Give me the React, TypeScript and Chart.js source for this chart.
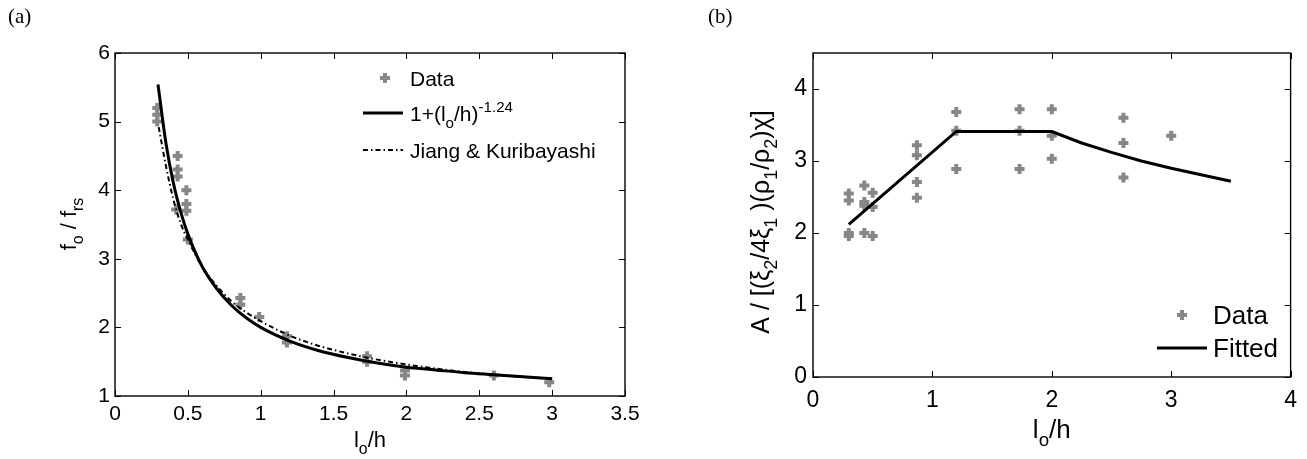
import React, { useEffect, useRef } from 'react';
import { Chart, registerables } from 'chart.js';
Chart.register(...registerables);

const SANS = '"Liberation Sans", Arial, sans-serif';
const SERIF = '"Liberation Serif", "Times New Roman", serif';
const GREY = '#878787';

// ---------- Panel (a) ----------
const aDataX = [0.29, 0.29, 0.29, 0.43, 0.43, 0.43, 0.42, 0.49, 0.49, 0.49, 0.5, 0.86, 0.86, 0.99, 1.18, 1.18, 1.73, 1.73, 1.99, 1.99, 2.6, 2.98];
const aDataY = [5.2, 5.1, 5.0, 4.5, 4.3, 4.2, 3.72, 4.0, 3.8, 3.7, 3.28, 2.43, 2.33, 2.15, 1.87, 1.78, 1.58, 1.5, 1.37, 1.3, 1.3, 1.2];
const aFitX = [0.295, 0.35, 0.4, 0.45, 0.5, 0.6, 0.7, 0.8, 0.9, 1.0, 1.2, 1.4, 1.6, 1.8, 2.0, 2.2, 2.4, 2.6, 2.8, 3.0];
const aFitY = [5.54, 4.68, 4.11, 3.69, 3.36, 2.88, 2.56, 2.32, 2.14, 2.0, 1.8, 1.66, 1.56, 1.48, 1.42, 1.38, 1.34, 1.31, 1.28, 1.25];
const aJKX = [0.3, 0.35, 0.4, 0.45, 0.5, 0.6, 0.7, 0.8, 0.9, 1.0, 1.2, 1.4, 1.6, 1.8, 2.0, 2.2, 2.4, 2.6, 2.8, 3.0];
const aJKY = [4.92, 4.35, 3.87, 3.52, 3.28, 2.88, 2.6, 2.38, 2.22, 2.09, 1.88, 1.73, 1.62, 1.53, 1.46, 1.4, 1.35, 1.31, 1.28, 1.25];
const aXTicks = [0, 0.5, 1, 1.5, 2, 2.5, 3, 3.5];
const aYTicks = [1, 2, 3, 4, 5, 6];

// ---------- Panel (b) ----------
const bDataX = [0.3, 0.3, 0.3, 0.3, 0.43, 0.43, 0.43, 0.43, 0.5, 0.5, 0.5, 0.87, 0.87, 0.87, 0.87, 1.2, 1.2, 1.2, 1.73, 1.73, 1.73, 2.0, 2.0, 2.0, 2.6, 2.6, 2.6, 3.0];
const bDataY = [2.55, 2.45, 2.0, 1.96, 2.66, 2.43, 2.38, 2.0, 2.56, 2.36, 1.96, 3.22, 3.08, 2.71, 2.49, 3.68, 3.42, 2.89, 3.72, 3.42, 2.89, 3.72, 3.35, 3.03, 3.6, 3.25, 2.77, 3.35];
const bFitX = [0.3, 1.2, 2.0, 2.25, 2.5, 2.75, 3.0, 3.25, 3.5];
const bFitY = [2.12, 3.41, 3.41, 3.25, 3.12, 3.0, 2.9, 2.81, 2.72];
const bXTicks = [0, 1, 2, 3, 4];
const bYTicks = [0, 1, 2, 3, 4];

type Seg = { t: string; k?: 'sub' | 'sup' };

function richWidth(ctx: CanvasRenderingContext2D, segs: Seg[], size: number) {
  let w = 0;
  for (const s of segs) {
    ctx.font = `${s.k ? size * 0.72 : size}px ${SANS}`;
    w += ctx.measureText(s.t).width;
  }
  return w;
}

function drawRich(ctx: CanvasRenderingContext2D, segs: Seg[], x: number, y: number, size: number, align: 'left' | 'center') {
  const w = richWidth(ctx, segs, size);
  let cx = align === 'center' ? x - w / 2 : x;
  ctx.textAlign = 'left';
  ctx.textBaseline = 'alphabetic';
  ctx.fillStyle = '#000';
  for (const s of segs) {
    const fs = s.k ? size * 0.72 : size;
    ctx.font = `${fs}px ${SANS}`;
    const dy = s.k === 'sub' ? size * 0.32 : s.k === 'sup' ? -size * 0.45 : 0;
    ctx.fillText(s.t, cx, y + dy);
    cx += ctx.measureText(s.t).width;
  }
}

function drawPlus(ctx: CanvasRenderingContext2D, x: number, y: number) {
  ctx.save();
  ctx.strokeStyle = GREY;
  ctx.lineWidth = 4;
  ctx.beginPath();
  ctx.moveTo(x - 5, y); ctx.lineTo(x + 5, y);
  ctx.moveTo(x, y - 5); ctx.lineTo(x, y + 5);
  ctx.stroke();
  ctx.restore();
}

type LegendItem = { kind: 'marker' | 'solid' | 'dashdot'; segs: Seg[]; y: number; baseline: number };

type PanelCfg = {
  left: number; width: number;
  area: { l: number; r: number; t: number; b: number };
  xMin: number; xMax: number; yMin: number; yMax: number;
  xTicks: number[]; yTicks: number[];
  tickSize: number; xPad: number; yPad: number;
  datasets: any[];
  label: string; labelX: number;
  xTitle: Seg[]; xTitleY: number; xTitleSize: number;
  yTitle: Seg[]; yTitleX: number; yTitleY: number; yTitleSize: number;
  legend: LegendItem[]; legendLineX0: number; legendLineX1: number; legendMarkerX: number; legendTextX: number; legendSize: number;
};

function Panel({ cfg }: { cfg: PanelCfg }) {
  const ref = useRef<HTMLCanvasElement>(null);
  useEffect(() => {
    const canvas = ref.current!;
    const H = 459;
    const a = cfg.area;
    const decor = {
      id: 'decor',
      afterDraw(chart: any) {
        const ctx: CanvasRenderingContext2D = chart.ctx;
        const xs = chart.scales.x, ys = chart.scales.y;
        const ca = chart.chartArea;
        ctx.save();
        ctx.strokeStyle = '#000';
        ctx.lineWidth = 1.4;
        ctx.strokeRect(ca.left, ca.top, ca.right - ca.left, ca.bottom - ca.top);
        ctx.lineWidth = 1;
        ctx.beginPath();
        for (const v of cfg.xTicks) {
          const px = Math.round(xs.getPixelForValue(v)) + 0.5;
          ctx.moveTo(px, ca.bottom); ctx.lineTo(px, ca.bottom - 6);
          ctx.moveTo(px, ca.top); ctx.lineTo(px, ca.top + 6);
        }
        for (const v of cfg.yTicks) {
          const py = Math.round(ys.getPixelForValue(v)) + 0.5;
          ctx.moveTo(ca.left, py); ctx.lineTo(ca.left + 6, py);
          ctx.moveTo(ca.right, py); ctx.lineTo(ca.right - 6, py);
        }
        ctx.stroke();
        ctx.font = `21px ${SERIF}`;
        ctx.fillStyle = '#000';
        ctx.textAlign = 'left';
        ctx.textBaseline = 'middle';
        ctx.fillText(cfg.label, cfg.labelX, 17);
        drawRich(ctx, cfg.xTitle, (ca.left + ca.right) / 2, cfg.xTitleY, cfg.xTitleSize, 'center');
        ctx.save();
        ctx.translate(cfg.yTitleX, cfg.yTitleY);
        ctx.rotate(-Math.PI / 2);
        drawRich(ctx, cfg.yTitle, 0, 0, cfg.yTitleSize, 'center');
        ctx.restore();
        for (const it of cfg.legend) {
          if (it.kind === 'marker') {
            drawPlus(ctx, cfg.legendMarkerX, it.y);
          } else {
            ctx.save();
            ctx.strokeStyle = '#000';
            ctx.lineWidth = it.kind === 'solid' ? 3 : 2;
            ctx.setLineDash(it.kind === 'dashdot' ? [5, 3, 1.5, 3] : []);
            ctx.beginPath();
            ctx.moveTo(cfg.legendLineX0, it.y);
            ctx.lineTo(cfg.legendLineX1, it.y);
            ctx.stroke();
            ctx.restore();
          }
          drawRich(ctx, it.segs, cfg.legendTextX, it.baseline, cfg.legendSize, 'left');
        }
        ctx.restore();
      },
    };
    const chart = new Chart(canvas, {
      type: 'scatter',
      data: { datasets: cfg.datasets },
      options: {
        animation: false,
        responsive: false,
        events: [],
        layout: { padding: { left: 0, top: a.t, right: cfg.width - a.r, bottom: 0 } },
        plugins: { legend: { display: false }, tooltip: { enabled: false } },
        scales: {
          x: {
            type: 'linear', min: cfg.xMin, max: cfg.xMax,
            grid: { display: false, drawTicks: false },
            border: { display: false },
            afterBuildTicks: (s: any) => { s.ticks = cfg.xTicks.map((v) => ({ value: v })); },
            afterFit: (s: any) => { s.height = H - a.b; },
            ticks: {
              padding: cfg.xPad, color: '#000', maxRotation: 0, autoSkip: false,
              font: { family: SANS, size: cfg.tickSize },
              callback: (v: any) => String(v),
            },
          },
          y: {
            type: 'linear', min: cfg.yMin, max: cfg.yMax,
            grid: { display: false, drawTicks: false },
            border: { display: false },
            afterBuildTicks: (s: any) => { s.ticks = cfg.yTicks.map((v) => ({ value: v })); },
            afterFit: (s: any) => { s.width = a.l; },
            ticks: {
              padding: cfg.yPad, color: '#000', autoSkip: false,
              font: { family: SANS, size: cfg.tickSize },
              callback: (v: any) => String(v),
            },
          },
        },
      },
      plugins: [decor],
    } as any);
    return () => chart.destroy();
  }, [cfg]);
  return (
    <canvas
      ref={ref}
      width={cfg.width}
      height={459}
      style={{ position: 'fixed', left: cfg.left, top: 0, width: cfg.width, height: 459, display: 'block' }}
    />
  );
}

const toPts = (xs: number[], ys: number[]) => xs.map((x, i) => ({ x, y: ys[i] }));

const panelA: PanelCfg = {
  left: 0, width: 650,
  area: { l: 115, r: 625, t: 53, b: 396 },
  xMin: 0, xMax: 3.5, yMin: 1, yMax: 6,
  xTicks: aXTicks, yTicks: aYTicks,
  tickSize: 21, xPad: 6, yPad: 5,
  datasets: [
    { label: 'fit', data: toPts(aFitX, aFitY), showLine: true, borderColor: '#000', borderWidth: 3, pointRadius: 0, cubicInterpolationMode: 'monotone' },
    { label: 'jk', data: toPts(aJKX, aJKY), showLine: true, borderColor: '#000', borderWidth: 2, borderDash: [5, 3, 1.5, 3], pointRadius: 0, cubicInterpolationMode: 'monotone' },
    { label: 'Data', data: toPts(aDataX, aDataY), showLine: false, pointStyle: 'cross', pointRadius: 5, borderWidth: 4, borderColor: GREY, backgroundColor: GREY },
  ],
  label: '(a)', labelX: 8,
  xTitle: [{ t: 'l' }, { t: 'o', k: 'sub' }, { t: '/h' }], xTitleY: 447, xTitleSize: 22,
  yTitle: [{ t: 'f' }, { t: 'o', k: 'sub' }, { t: ' / f' }, { t: 'rs', k: 'sub' }], yTitleX: 76, yTitleY: 224, yTitleSize: 22,
  legend: [
    { kind: 'marker', segs: [{ t: 'Data' }], y: 78, baseline: 86 },
    { kind: 'solid', segs: [{ t: '1+(l' }, { t: 'o', k: 'sub' }, { t: '/h)' }, { t: '-1.24', k: 'sup' }], y: 113, baseline: 121 },
    { kind: 'dashdot', segs: [{ t: 'Jiang & Kuribayashi' }], y: 150, baseline: 158 },
  ],
  legendLineX0: 363, legendLineX1: 403, legendMarkerX: 385, legendTextX: 410, legendSize: 21,
};

const panelB: PanelCfg = {
  left: 650, width: 657,
  area: { l: 163, r: 646, t: 53, b: 377 },
  xMin: 0, xMax: 4, yMin: 0, yMax: 4.5,
  xTicks: bXTicks, yTicks: bYTicks,
  tickSize: 23, xPad: 10, yPad: 6,
  datasets: [
    { label: 'Fitted', data: toPts(bFitX, bFitY), showLine: true, borderColor: '#000', borderWidth: 3, pointRadius: 0, tension: 0 },
    { label: 'Data', data: toPts(bDataX, bDataY), showLine: false, pointStyle: 'cross', pointRadius: 5, borderWidth: 4, borderColor: GREY, backgroundColor: GREY },
  ],
  label: '(b)', labelX: 58,
  xTitle: [{ t: 'l' }, { t: 'o', k: 'sub' }, { t: '/h' }], xTitleY: 438, xTitleSize: 26,
  yTitle: [
    { t: 'A / [(ξ' }, { t: '2', k: 'sub' }, { t: '/4ξ' }, { t: '1', k: 'sub' }, { t: ' )(ρ' }, { t: '1', k: 'sub' }, { t: '/ρ' }, { t: '2', k: 'sub' }, { t: ')χ]' },
  ],
  yTitleX: 119, yTitleY: 222, yTitleSize: 25,
  legend: [
    { kind: 'marker', segs: [{ t: 'Data' }], y: 315, baseline: 324 },
    { kind: 'solid', segs: [{ t: 'Fitted' }], y: 348, baseline: 357 },
  ],
  legendLineX0: 507, legendLineX1: 557, legendMarkerX: 532, legendTextX: 563, legendSize: 26,
};

export default function App() {
  return (
    <div>
      <Panel cfg={panelA} />
      <Panel cfg={panelB} />
    </div>
  );
}
